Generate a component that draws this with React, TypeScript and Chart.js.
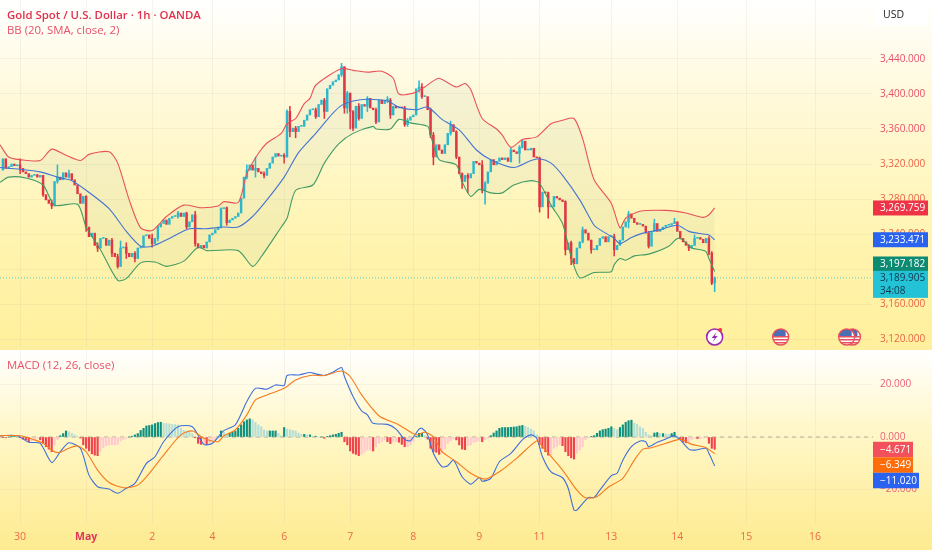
import React, { useEffect, useRef } from "react";
import { Chart, registerables } from "chart.js";
Chart.register(...registerables);

const firstOpen = 3313;
const closes = [
3326,3315,3317,3320,3318,3319,3315,3311,3309,3305,
3307,3308,3305,3307,3285,3279,3275,3272,3300,3305,
3302,3310,3305,3309,3302,3296,3286,3275,3283,3248,
3237,3241,3227,3224,3235,3235,3227,3233,3218,3214,
3203,3224,3225,3218,3214,3218,3212,3224,3225,3238,
3239,3235,3229,3235,3248,3252,3256,3251,3258,3260,
3260,3264,3260,3264,3248,3254,3262,3229,3224,3227,
3224,3231,3239,3241,3245,3248,3269,3270,3253,3256,
3258,3260,3264,3281,3305,3313,3319,3313,3315,3311,
3309,3307,3315,3321,3328,3332,3329,3330,3328,3380,
3357,3361,3357,3363,3363,3370,3376,3382,3382,3374,
3388,3393,3380,3406,3410,3414,3416,3422,3431,3384,
3401,3380,3361,3386,3372,3388,3386,3395,3384,3382,
3368,3393,3389,3393,3393,3376,3386,3384,3385,3384,
3365,3370,3374,3376,3406,3408,3397,3397,3382,3353,
3328,3342,3336,3332,3342,3355,3365,3357,3328,3309,
3300,3307,3304,3309,3323,3321,3319,3290,3298,3311,
3325,3319,3323,3327,3325,3327,3323,3336,3334,3332,
3339,3346,3336,3336,3338,3328,3327,3271,3288,3287,
3271,3271,3283,3281,3279,3277,3222,3230,3212,3206,
3224,3231,3245,3241,3233,3222,3222,3227,3235,3237,
3231,3237,3237,3222,3227,3233,3248,3254,3263,3258,
3253,3251,3251,3249,3241,3226,3243,3252,3243,3245,
3248,3250,3250,3252,3254,3243,3235,3231,3227,3224,
3227,3235,3236,3234,3230,3235,3218,3184,3189.905];

const wickBars = [6,14,17,19,23,29,33,38,40,41,43,46,52,54,61,64,67,76,78,85,88,91,98,99,100,102,109,112,118,119,120,121,122,124,127,130,134,135,140,141,145,146,149,150,156,158,160,162,167,168,177,180,181,187,190,196,198,202,205,213,218,225,227,234,239,241,246,247,248];
const wickHighs = [3326,3307,3279,3319,3313,3284,3230,3235,3217,3232,3230,3220,3240,3250,3266,3265,3266,3270,3271,3319,3328,3311,3332,3382,3386,3363,3384,3395,3435,3431,3403,3401,3381,3389,3397,3384,3397,3395,3386,3372,3415,3412,3384,3356,3369,3358,3310,3309,3324,3300,3338,3341,3348,3328,3288,3278,3232,3248,3233,3240,3266,3243,3257,3258,3228,3239,3237,3220,3191];
const wickLows = [3309,3283,3269,3298,3304,3243,3220,3214,3201,3203,3212,3208,3225,3232,3258,3246,3226,3247,3250,3303,3305,3304,3321,3328,3351,3350,3372,3372,3420,3378,3378,3360,3358,3370,3380,3366,3390,3372,3363,3363,3402,3395,3350,3319,3353,3326,3292,3287,3287,3274,3322,3321,3338,3265,3258,3216,3205,3230,3218,3215,3247,3224,3243,3252,3221,3227,3216,3182,3174];

const upperBars = [-1,2,6,13,17,22,27,30,37,40,44,48,52,57,63,69,75,77,82,85,89,92,97,99,102,105,107,109,118,122,127,132,136,138,143,147,150,152,158,161,163,167,172,174,177,181,186,191,195,199,202,206,212,215,217,222,231,238,244,246,248];
const upperBand = [3342,3328,3325,3324,3337,3330,3324,3331,3334,3321,3279,3247,3244,3260,3273,3270,3272,3277,3276,3309,3332,3344,3355,3366,3372,3389,3395,3410,3429,3427,3425,3426,3418,3400,3401,3408,3415,3418,3408,3412,3405,3372,3360,3353,3339,3348,3351,3366,3370,3372,3349,3302,3275,3247,3258,3266,3267,3264,3259,3262,3269.759];
const midBars = [-1,6,13,19,24,29,37,43,48,52,58,65,71,77,82,87,92,98,103,109,115,118,122,127,134,138,144,148,153,159,165,170,178,184,187,191,195,201,206,208,213,215,219,223,229,235,239,244,246,248];
const midBand = [3316,3314,3311,3305,3301,3290,3269,3243,3226,3226,3235,3246,3246,3248,3248,3260,3279,3305,3333,3355,3378,3387,3392,3394,3392,3385,3382,3385,3371,3359,3336,3325,3316,3324,3326,3321,3307,3279,3250,3245,3235,3229,3236,3241,3245,3250,3243,3240,3239,3233.471];
const lowerBars = [-1,2,8,14,18,26,29,34,40,43,48,53,57,63,68,71,82,87,90,97,99,102,108,112,117,122,129,130,135,138,142,148,149,152,158,160,163,166,170,174,178,184,187,191,195,198,201,206,212,213,215,217,220,225,232,235,237,240,243,245,246,248];
const lowerBand = [3299,3305,3304,3296,3273,3274,3248,3222,3187,3189,3207,3208,3203,3209,3225,3221,3221,3203,3214,3248,3258,3290,3296,3321,3343,3355,3363,3360,3360,3371,3367,3363,3353,3325,3319,3300,3283,3291,3287,3287,3296,3301,3298,3273,3252,3214,3190,3196,3197,3205,3212,3210,3215,3217,3226,3235,3233,3224,3222,3220,3212,3197.182];

const histogram = [
-0.1,-0.3,0,0.1,0.3,0.1,-0.3,-0.8,-1.1,-1.8,
-1.5,-0.9,-0.4,-1.1,-2.4,-3.7,-4.6,-5.6,-3,-1,
0.5,1.3,2.3,2,1.3,0.8,0.3,-0.4,-3,-4.3,
-5.3,-6.4,-6.9,-7.1,-5.3,-4.1,-3.3,-3,-3,-3,
-2.8,-1.5,-1,-0.5,0,0.3,0.8,1.3,2.5,3.3,
4.2,4.4,4.6,5.1,5.5,5.6,5.2,5.1,5,4.8,
4.7,4.6,3.3,2.5,2.3,1.8,1.3,-0.3,-2.4,-2.8,
-2.5,-2.8,-2.4,-1.5,-1,-0.3,2.3,1.8,1,1.4,
1.8,2.3,3.3,4.6,5.8,6.5,6.9,6.6,5.6,4.6,
3.9,2.7,2.3,2.3,2.3,2.3,1.4,0.5,3.6,3,
2.8,2.5,2.3,1.5,1,1,0.8,0.8,0.3,0.3,
0,0,-0.5,0.1,0.5,0.8,1,1.4,1.8,-1.8,
-3,-5.3,-6.2,-6.6,-7.1,-6.6,-5.8,-5,-5,-5.3,
-3.7,-2.4,-1.8,-1.1,-1.8,-2.5,-1.8,-1.8,-2,-2.8,
-3.7,-3.7,-3,-1.8,0.1,1.4,1.4,0.5,-0.8,-4.3,
-5.6,-5.8,-6.6,-6.2,-4.6,-2.4,-1.5,-0.8,-1.1,-3,
-4.6,-4.8,-3.3,-3,-2,-1.8,-1.5,-1.8,-1,-0.5,
0.5,1.5,2.3,3.3,3.6,3.6,3.6,3.7,3.8,3.9,
4.2,4.4,4.1,3.6,3,2.3,0.8,-2.8,-4.3,-5.6,
-6.9,-6.9,-4.3,-3.7,-3,-3.3,-5.6,-7.1,-7.9,-8.4,
-6.2,-5,-3.7,-1.1,-0.3,0.1,0.5,1.4,2.3,2.8,
3,3.3,3.9,3.3,2.8,3.6,4.6,5.6,6.2,6.4,
5.3,4.8,3.9,3.3,1.8,0.8,0.6,1.5,1.7,1.3,
1.3,1.1,1,1.3,1.8,0.5,-0.9,-1.9,-2.2,-2,
-1,-0.5,-0.6,-0.6,-0.3,-0.1,-2.4,-4.3,-4.671];

const macdBars = [-1,5,9,13,17,20,23,27,30,33,37,40,43,46,50,53,56,61,66,70,73,77,81,85,88,92,95,98,99,103,107,109,112,115,118,119,122,125,127,129,134,137,140,142,145,146,148,150,153,155,157,160,163,166,167,170,173,177,181,184,186,188,191,195,197,199,200,204,206,208,212,214,216,219,222,224,225,228,232,234,236,239,241,245,246,248];
const macdLine = [0.5,0.5,-2,-2.4,-9.7,-5.6,-2.2,-4.3,-14.5,-18.9,-19.8,-21.4,-19.5,-17.6,-10,-7.5,-1.8,3.9,3.9,-2.8,-2.4,2.4,4.6,13.5,18.5,18.2,19.8,19.6,23.4,23.6,24.5,24,23.4,24.6,26.4,23,15.4,9.9,8.4,5.2,4.8,3,-0.9,-1.4,3,3.3,0.8,-6.2,-11.3,-10.9,-8.8,-15.1,-17.9,-15.4,-16.8,-15.7,-9.4,-6.2,-1.1,0.8,-0.5,-7.5,-13.3,-15.5,-19.6,-27.8,-27.8,-23,-23,-20.2,-14.7,-13.8,-8.8,-3.7,-1.5,-1.8,-3.7,-2,-0.3,0.5,-1.1,-4.6,-5,-4.3,-6.2,-11.02];
const signalBars = [-1,6,11,14,18,20,23,26,29,33,37,42,47,51,56,62,66,70,75,77,81,85,88,92,98,102,107,112,118,121,125,131,138,144,147,150,153,158,163,168,173,179,186,188,195,200,203,207,211,216,220,223,226,231,236,240,245,248];
const signalLine = [0.5,0.5,-1.1,-2.4,-5.6,-5.8,-4.3,-3.4,-5.6,-12.6,-17.3,-19.3,-18.3,-13.8,-6.9,0.8,2.3,-0.5,-1.8,0.5,2.7,8.4,14.1,16,18.5,21.7,23.4,23.4,25.1,23,16,8.1,4.6,0.8,1.8,0.1,-5.6,-9.4,-13.8,-16,-13.2,-8.1,-1.5,-3.7,-12.6,-20.2,-23.1,-22.7,-19,-15.7,-8.8,-4.6,-4.1,-2.4,-0.9,-2.8,-4.1,-6.349];

const priceTicks = [3120,3160,3200,3240,3280,3320,3360,3400,3440];
const macdTicks = [-20,0,20];
const dateTickBars = [6,29,52,73,98,121,143,166,187,212,235,259,283];
const dateTickLabels = ["30","May","2","4","6","7","8","9","11","13","14","15","16"];
const lastPrice = 3189.905;
const countdown = "34:08";

const FONT = "'Open Sans'";
const TEAL = "#25b9d2";
const RED = "#e62f3f";
const XMIN = -1.01, XMAX = 303.17;
const AXIS_W = 59;
const GRID = "rgba(190,185,160,0.15)";

const fmt = (v: number) => {
  const s = Math.abs(v).toFixed(3).replace(/\B(?=(\d{3})(?=\d*\.))/g, ",");
  return (v < 0 ? "\u2212" : "") + s;
};
const xy = (xs: number[], ys: number[]) => xs.map((x, k) => ({ x, y: ys[k] }));

function tag(ctx: CanvasRenderingContext2D, x: number, y: number, w: number, h: number, color: string, text: string, fg = "#fff") {
  ctx.fillStyle = color;
  ctx.fillRect(x, y, w, h);
  ctx.fillStyle = fg;
  ctx.font = `10px ${FONT}`;
  ctx.textBaseline = "middle";
  ctx.textAlign = "left";
  ctx.fillText(text, x + 7, y + h / 2 + 0.5);
}

function flag(ctx: CanvasRenderingContext2D, x: number, y: number) {
  ctx.save();
  ctx.beginPath(); ctx.arc(x, y, 8, 0, Math.PI * 2); ctx.fillStyle = "#fff"; ctx.fill();
  ctx.clip();
  ctx.fillStyle = "#e8505a";
  [y - 1, y + 2, y + 5].forEach((yy) => ctx.fillRect(x - 8, yy, 16, 1.5));
  ctx.fillStyle = "#4a6fb5";
  ctx.fillRect(x - 8, y - 8, 13, 7);
  ctx.restore();
  ctx.beginPath(); ctx.arc(x, y, 8, 0, Math.PI * 2); ctx.strokeStyle = "#e8505a"; ctx.lineWidth = 1.4; ctx.stroke();
}

const topOverlay = {
  id: "topOverlay",
  beforeDatasetsDraw(c: any) {
    const y = c.scales.y.getPixelForValue(lastPrice);
    const ctx = c.ctx;
    ctx.save();
    ctx.strokeStyle = "#5cc9c4"; ctx.setLineDash([1, 2]); ctx.lineWidth = 1;
    ctx.beginPath(); ctx.moveTo(0, y); ctx.lineTo(c.chartArea.right, y); ctx.stroke();
    ctx.restore();
  },
  afterDraw(c: any) {
    const ctx = c.ctx, s = c.scales.y, X = c.chartArea.right;
    ctx.save();
    const yU = s.getPixelForValue(upperBand[upperBand.length - 1]);
    const yM = s.getPixelForValue(midBand[midBand.length - 1]);
    const yL = s.getPixelForValue(lowerBand[lowerBand.length - 1]);
    const yP = s.getPixelForValue(lastPrice);
    tag(ctx, X, yU - 7.5, 55, 15, "#ee3346", fmt(upperBand[upperBand.length - 1]));
    tag(ctx, X, yM - 7.5, 55, 15, "#2a63f0", fmt(midBand[midBand.length - 1]));
    tag(ctx, X, yL - 15, 55, 15, "#0d8a72", fmt(lowerBand[lowerBand.length - 1]));
    ctx.fillStyle = "#24c2d6";
    ctx.fillRect(X, yP - 7, 55, 27);
    ctx.fillStyle = "#10384a";
    ctx.font = `10px ${FONT}`;
    ctx.textBaseline = "middle";
    ctx.fillText(fmt(lastPrice), X + 7, yP);
    ctx.fillText(countdown, X + 7, yP + 13);
    // event icons
    const iy = 337, ix = c.scales.x.getPixelForValue(248);
    ctx.beginPath(); ctx.arc(ix, iy, 8, 0, Math.PI * 2);
    ctx.fillStyle = "#fff"; ctx.fill();
    ctx.strokeStyle = "#9c27b0"; ctx.lineWidth = 1.6; ctx.stroke();
    ctx.beginPath();
    ctx.moveTo(ix + 2, iy - 5); ctx.lineTo(ix - 3, iy + 1); ctx.lineTo(ix, iy + 1); ctx.lineTo(ix - 2, iy + 5); ctx.lineTo(ix + 3, iy - 1); ctx.lineTo(ix, iy - 1); ctx.closePath();
    ctx.fillStyle = "#9c27b0"; ctx.fill();
    ctx.beginPath(); ctx.arc(ix + 5.5, iy - 7, 2, 0, Math.PI * 2); ctx.fillStyle = "#ee3346"; ctx.fill();
    flag(ctx, c.scales.x.getPixelForValue(271), iy);
    flag(ctx, c.scales.x.getPixelForValue(296), iy);
    flag(ctx, c.scales.x.getPixelForValue(294), iy);
    ctx.restore();
  },
};

const bottomOverlay = {
  id: "bottomOverlay",
  beforeDatasetsDraw(c: any) {
    const y = c.scales.y.getPixelForValue(0);
    const ctx = c.ctx;
    ctx.save();
    ctx.strokeStyle = "#b5ae95"; ctx.setLineDash([4, 4]); ctx.lineWidth = 1;
    ctx.beginPath(); ctx.moveTo(0, y); ctx.lineTo(c.chartArea.right, y); ctx.stroke();
    ctx.restore();
  },
  afterDraw(c: any) {
    const ctx = c.ctx, s = c.scales.y, X = c.chartArea.right;
    ctx.save();
    const vH = histogram[histogram.length - 1], vS = signalLine[signalLine.length - 1], vM = macdLine[macdLine.length - 1];
    const y1 = s.getPixelForValue(vH);
    tag(ctx, X, y1 - 7.5, 40, 15.5, "#f2505a", fmt(vH));
    tag(ctx, X, y1 + 8, 40, 15.5, "#ff6d0a", fmt(vS));
    tag(ctx, X, y1 + 23.5, 46, 15.5, "#2a63f0", fmt(vM));
    ctx.restore();
  },
};

const opens = closes.map((_, i) => (i === 0 ? firstOpen : closes[i - 1]));

const fixedY = (ticks: number[]) => ({
  position: "right" as const,
  afterFit: (a: any) => { a.width = AXIS_W; a.paddingTop = 0; a.paddingBottom = 0; },
  afterBuildTicks: (a: any) => { a.ticks = ticks.map((value) => ({ value })); },
  grid: { color: GRID, drawTicks: false },
  border: { display: false },
});

const xScale = (showLabels: boolean, h: number) => ({
  type: "linear" as const,
  min: XMIN,
  max: XMAX,
  offset: false,
  afterBuildTicks: (a: any) => { a.ticks = dateTickBars.map((value) => ({ value })); },
  afterFit: (a: any) => { a.height = h; a.paddingLeft = 0; a.paddingRight = 0; },
  grid: { color: GRID, drawTicks: false, offset: false },
  border: { display: false },
  ticks: {
    display: showLabels,
    autoSkip: false,
    maxRotation: 0,
    padding: 6,
    font: (ctx: any) => ({ family: FONT, size: 10.5, weight: ctx.tick && dateTickLabels[dateTickBars.indexOf(ctx.tick.value)] === "May" ? "700" : "400" }),
    color: (ctx: any) => (ctx.tick && dateTickLabels[dateTickBars.indexOf(ctx.tick.value)] === "May" ? "#e0345a" : "#ea6a4a"),
    callback: (v: number) => dateTickLabels[dateTickBars.indexOf(v)] ?? "",
  },
});

const line = (label: string, xs: number[], ys: number[], color: string, extra: any = {}) => ({
  type: "line" as const,
  label,
  data: xy(xs, ys),
  borderColor: color,
  borderWidth: 1.1,
  pointRadius: 0,
  tension: 0.25,
  fill: false,
  order: 0,
  ...extra,
});

export default function App() {
  const topRef = useRef<HTMLCanvasElement>(null);
  const botRef = useRef<HTMLCanvasElement>(null);

  useEffect(() => {
    const bodyColors = closes.map((c, i) => (c >= opens[i] ? TEAL : RED));
    const wickColors = wickBars.map((b) => bodyColors[b]);
    const top = new Chart(topRef.current!, {
      type: "bar",
      data: {
        datasets: [
          line("Upper", upperBars, upperBand, "#e8525a", { fill: { target: 1 }, backgroundColor: "rgba(125,170,140,0.08)" }),
          line("Lower", lowerBars, lowerBand, "#3f9a63"),
          line("Basis", midBars, midBand, "#3f6fd8"),
          {
            type: "bar", label: "Wicks",
            data: wickBars.map((b, k) => ({ x: b, y: [wickLows[k], wickHighs[k]] })),
            backgroundColor: wickColors, barThickness: 0.9, grouped: false, order: 2,
          },
          {
            type: "bar", label: "Bodies",
            data: closes.map((c, i) => ({ x: i, y: [Math.min(c, opens[i]), Math.max(c, opens[i])] })),
            backgroundColor: bodyColors, barThickness: 1.8, minBarLength: 1, grouped: false, order: 1,
          },
        ] as any,
      },
      options: {
        animation: false,
        responsive: false,
        layout: { padding: 0, autoPadding: false },
        plugins: { legend: { display: false }, tooltip: { enabled: false } },
        scales: {
          x: xScale(false, 0),
          y: {
            ...fixedY(priceTicks),
            min: 3110.9,
            max: 3507.4,
            ticks: {
              padding: 7,
              color: (ctx: any) => (ctx.tick && ctx.tick.value >= 3340 ? "#e8506a" : "#ea6448"),
              font: { family: FONT, size: 10 },
              callback: (v: number) => fmt(v),
            },
          },
        },
      } as any,
      plugins: [topOverlay],
    });

    const histColors = histogram.map((v, i) => {
      const prev = i ? histogram[i - 1] : 0;
      if (v >= 0) return v >= prev ? "#0e9080" : "#b5dfd6";
      return v < prev ? "#f0434e" : "#ffc9cd";
    });
    const bot = new Chart(botRef.current!, {
      type: "bar",
      data: {
        datasets: [
          {
            type: "bar", label: "Histogram",
            data: histogram.map((v, i) => ({ x: i, y: v })),
            backgroundColor: histColors, barThickness: 1.5, grouped: false, order: 2,
          },
          line("Signal", signalBars, signalLine, "#f57c1e"),
          line("MACD", macdBars, macdLine, "#3f6fd8"),
        ] as any,
      },
      options: {
        animation: false,
        responsive: false,
        layout: { padding: 0, autoPadding: false },
        plugins: { legend: { display: false }, tooltip: { enabled: false } },
        scales: {
          x: xScale(true, 25),
          y: {
            ...fixedY(macdTicks),
            min: -33.46,
            max: 33.08,
            ticks: { padding: 7, color: "#e9607a", font: { family: FONT, size: 10 }, callback: (v: number) => fmt(v) },
          },
        },
      } as any,
      plugins: [bottomOverlay],
    });
    return () => { top.destroy(); bot.destroy(); };
  }, []);

  const legend = (t: number, text: string, weight: number, color: string) => (
    <div style={{ position: "absolute", left: 7, top: t, font: `${weight} 11.4px ${FONT}`, color, whiteSpace: "nowrap", lineHeight: "14px" }}>{text}</div>
  );

  return (
    <div style={{ position: "absolute", left: 0, top: 0, width: 932, height: 550, overflow: "hidden", background: "#fdeea0" }}>
      <div style={{ position: "absolute", left: 0, top: 0, width: 932, height: 345, background: "linear-gradient(#ffffff 0%, #fff9d8 30%, #fff4b0 70%, #fff09c 100%)" }} />
      <div style={{ position: "absolute", left: 0, top: 350, width: 932, height: 200, background: "linear-gradient(#ffffff 0%, #fff8cf 35%, #fff0a6 75%, #fdeb90 100%)" }} />
      <canvas ref={topRef} width={932} height={347} style={{ position: "absolute", left: 0, top: 0 }} />
      <canvas ref={botRef} width={932} height={200} style={{ position: "absolute", left: 0, top: 350 }} />
      {legend(8, "Gold Spot / U.S. Dollar \u00b7 1h \u00b7 OANDA", 600, "#e0304f")}
      {legend(23, "BB (20, SMA, close, 2)", 400, "#e8506a")}
      {legend(358, "MACD (12, 26, close)", 400, "#e8506a")}
      <div style={{ position: "absolute", left: 875, top: 3, width: 53, height: 23, boxSizing: "border-box", borderRadius: 4, background: "rgba(255,255,255,0.9)", font: `10.5px ${FONT}`, color: "#222", paddingLeft: 8, lineHeight: "23px" }}>USD</div>
    </div>
  );
}
